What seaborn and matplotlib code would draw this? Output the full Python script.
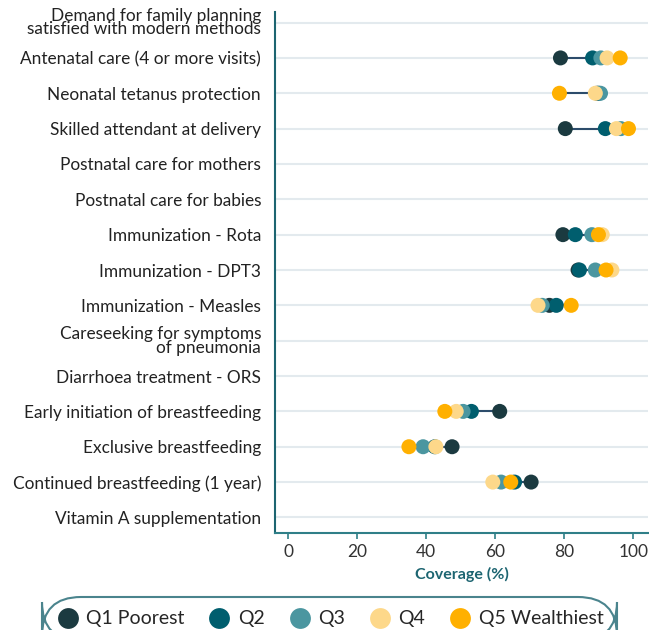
import matplotlib
matplotlib.use("Agg")
import matplotlib.pyplot as plt
from matplotlib.lines import Line2D
import numpy as np
import pandas as pd
import seaborn as sns

indicators = [
    "Demand for family planning\nsatisfied with modern methods",
    "Antenatal care (4 or more visits)",
    "Neonatal tetanus protection",
    "Skilled attendant at delivery",
    "Postnatal care for mothers",
    "Postnatal care for babies",
    "Immunization - Rota",
    "Immunization - DPT3",
    "Immunization - Measles",
    "Careseeking for symptoms\nof pneumonia",
    "Diarrhoea treatment - ORS",
    "Early initiation of breastfeeding",
    "Exclusive breastfeeding",
    "Continued breastfeeding (1 year)",
    "Vitamin A supplementation",
]
nan = np.nan
q1 = [nan, 78.9, 89.5, 80.3, nan, nan, 79.6, 84.0, 75.7, nan, nan, 61.3, 47.5, 70.4, nan]
q2 = [nan, 88.2, 90.0, 91.9, nan, nan, 83.2, 84.4, 77.7, nan, nan, 53.1, 42.5, 65.6, nan]
q3 = [nan, 90.6, 90.5, 96.4, nan, nan, 88.0, 89.0, 73.6, nan, nan, 50.7, 39.1, 61.7, nan]
q4 = [nan, 92.4, 89.0, 95.1, nan, nan, 91.0, 93.8, 72.4, nan, nan, 48.7, 42.8, 59.3, nan]
q5 = [nan, 96.2, 78.6, 98.6, nan, nan, 89.9, 92.1, 82.0, nan, nan, 45.4, 35.0, 64.5, nan]

quintiles = ["Q1 Poorest", "Q2", "Q3", "Q4", "Q5 Wealthiest"]
colors = ["#1b3a40", "#005e6e", "#4b96a0", "#fdd88a", "#ffb000"]

wide = pd.DataFrame(dict(zip(quintiles, [q1, q2, q3, q4, q5])), index=indicators)
df = wide.reset_index(names="Indicator").melt(id_vars="Indicator", var_name="Quintile",
                                              value_name="Coverage")

sns.set_style("white")
plt.rcParams["font.family"] = ["Lato", "DejaVu Sans"]

teal = "#1d6571"
fig = plt.figure(figsize=(6.49, 6.30), dpi=100)
ax = fig.add_axes([0.4237, 0.154, 0.575, 0.827])

# range line between lowest and highest quintile
pos = np.arange(len(indicators))
ax.hlines(pos, wide.min(axis=1), wide.max(axis=1), color="#2c4c6b", lw=1.5, zorder=1)

sns.stripplot(data=df, x="Coverage", y="Indicator", hue="Quintile", order=indicators,
              hue_order=quintiles, palette=colors, jitter=False, dodge=False,
              size=10.8, linewidth=0, ax=ax, zorder=3, legend=False)

ax.set_xlim(-3.8, 104.3)
ax.set_ylim(14.44, -0.3)
ax.set_xticks([0, 20, 40, 60, 80, 100])
ax.yaxis.grid(True, color="#e3eaee", lw=1.5, zorder=0)
ax.xaxis.grid(False)
ax.set_axisbelow(True)
for s in ["top", "right"]:
    ax.spines[s].set_visible(False)
ax.spines["left"].set_color(teal)
ax.spines["bottom"].set_color("#2f7f88")
ax.spines["left"].set_linewidth(1.5)
ax.spines["bottom"].set_linewidth(1.5)
ax.tick_params(axis="y", length=4, color="#6aa1a8", width=1.5, labelsize=12.4,
               labelcolor="#222222", pad=6)
ax.tick_params(axis="x", length=4, color="#2f7f88", width=1.2, labelsize=12.5,
               labelcolor="#333333", pad=4, bottom=True)
for t in ax.get_yticklabels():
    t.set_linespacing(0.8)
ax.set_ylabel("")
ax.set_xlabel("Coverage (%)", fontsize=11.5, fontweight="bold", color=teal, labelpad=5)

handles = [Line2D([], [], marker="o", ls="", markersize=15, color=c, markeredgewidth=0)
           for c in colors]
leg = fig.legend(handles, quintiles, loc="upper center", bbox_to_anchor=(0.508, 0.068),
                 ncol=5, frameon=True, fontsize=14, handletextpad=0.35,
                 columnspacing=1.2, borderpad=0.7, handlelength=1.2)
frame = leg.get_frame()
frame.set_edgecolor(teal)
frame.set_linewidth(1.5)
frame.set_boxstyle("round", pad=0.0, rounding_size=2.0)

fig.savefig("out.png", dpi=100)
